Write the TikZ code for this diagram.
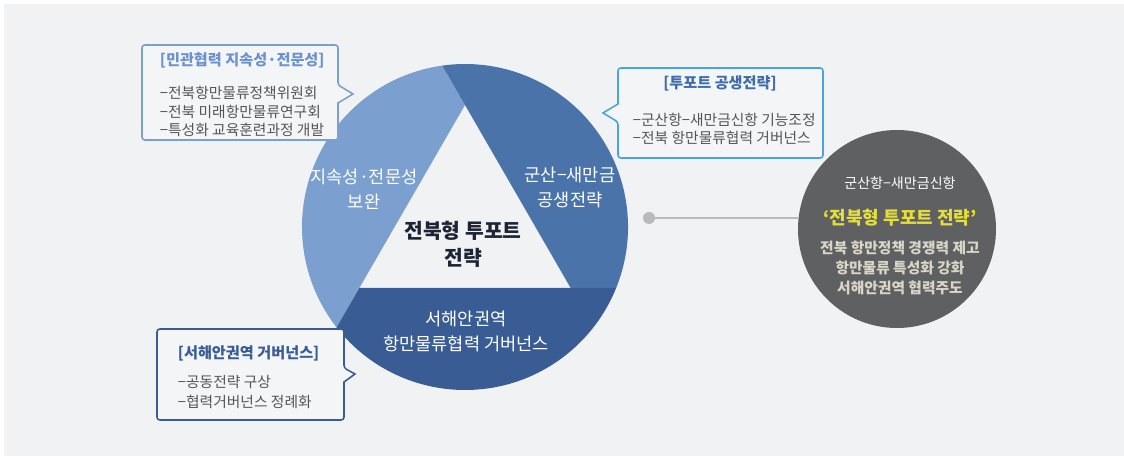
\documentclass[tikz,border=0pt]{standalone}
\usepackage{fontspec}
\setmainfont{Noto Sans CJK KR}
\usepackage{tikz}
\usetikzlibrary{calc}
\definecolor{bggray}{HTML}{F1F2F4}
\definecolor{boxfill}{HTML}{F4F5F7}
\definecolor{lblue}{HTML}{7B9FCF}
\definecolor{mblue}{HTML}{4A74A9}
\definecolor{dblue}{HTML}{3A5C95}
\definecolor{skyline}{HTML}{4AA3E0}
\definecolor{titlea}{HTML}{6B92D0}
\definecolor{titleb}{HTML}{3F6DAA}
\definecolor{itemgray}{HTML}{555555}
\definecolor{centerink}{HTML}{1E2434}
\definecolor{discgray}{HTML}{5F6062}
\definecolor{dotgray}{HTML}{B9BABC}
\definecolor{gold}{HTML}{E4DE3A}
\definecolor{beige}{HTML}{D9D5C7}

\begin{document}
\begin{tikzpicture}[
  sectorlabel/.style={text=white,align=center,font=\fontsize{12.5}{17.8}\selectfont},
  boxtitle/.style={anchor=west,font=\fontsize{10.8}{13}\selectfont\bfseries},
  boxitem/.style={anchor=west,align=left,text=itemgray,font=\fontsize{10.5}{13.2}\selectfont},
  disctext/.style={align=center,font=\fontsize{10.5}{14.2}\selectfont\bfseries}]
\useasboundingbox (0,0) rectangle (28.1,11.4);
\fill[bggray] (0.1,0) rectangle (28.1,11.3);

% wheel of three sectors round the triangle
\begin{scope}[shift={(11.625,5.725)}]
\foreach \a/\col in {90/lblue,330/mblue,210/dblue}
  \fill[\col] (\a:3.05) -- (\a+8.03:4.075)
    arc[start angle=\a+8.03,end angle=\a+128.03,radius=4.075]
    -- (\a+120:3.05) -- cycle;
\end{scope}

\node (left) at (9.1,6.66) [sectorlabel]{지속성·전문성\\보완};
\node (right) at (14.25,6.725) [sectorlabel]{군산−새만금\\공생전략};
\node (bottom) at (11.65,3.125) [sectorlabel]{서해안권역\\항만물류협력 거버넌스};
\node (core) at (11.575,5.29) [align=center,text=centerink,font=\fontsize{14.5}{19}\selectfont\bfseries]{전북형 투포트\\전략};

% callouts
\draw[lblue,line width=1.1pt,fill=boxfill,rounded corners=2pt] (3.55,10.275) -- (8.45,10.275) -- (8.45,9.275)
  [sharp corners] -- (8.825,9.05) -- (8.45,8.825) [rounded corners=2pt] -- (8.45,7.9) -- (3.55,7.9) -- cycle;
\node (civtitle) at (3.875,9.9) [boxtitle,text=titlea]{[민관협력 지속성·전문성]};
\node (civlist) at (3.875,8.6125) [boxitem]{−전북항만물류정책위원회\\−전북 미래항만물류연구회\\−특성화 교육훈련과정 개발};

\draw[skyline,line width=1.1pt,fill=boxfill,rounded corners=2pt] (15.45,9.7) -- (20.575,9.7) -- (20.575,7.45) -- (15.45,7.45) -- (15.45,8.35)
  [sharp corners] -- (15.075,8.575) -- (15.45,8.8) [rounded corners=2pt] -- cycle;
\node (twotitle) at (18.0,9.325) [boxtitle,anchor=center,text=titleb]{[투포트 공생전략]};
\node (twolist) at (15.7,8.175) [boxitem,font=\fontsize{10.5}{12.8}\selectfont]{−군산항−새만금신항 기능조정\\−전북 항만물류협력 거버넌스};

\draw[dblue,line width=1.1pt,fill=boxfill,rounded corners=2pt] (3.925,3.175) -- (8.6,3.175) -- (8.6,2.2)
  [sharp corners] -- (8.875,2.05) -- (8.6,1.85) [rounded corners=2pt] -- (8.6,0.9) -- (3.925,0.9) -- cycle;
\node (govtitle) at (4.325,2.575) [boxtitle,text=dblue]{[서해안권역 거버넌스]};
\node (govlist) at (4.325,1.6) [boxitem,font=\fontsize{10.5}{14.2}\selectfont]{−공동전략 구상\\−협력거버넌스 정례화};

% summary disc
\node (disc) at (22.425,5.675) [circle,fill=discgray,minimum size=4.95cm,inner sep=0]{};
\node (dot) at (16.225,5.95) [circle,fill=dotgray,minimum size=0.3cm,inner sep=0]{};
\draw[dotgray,line width=1.4pt] (dot) -- (dot -| disc.west);
\node (port) at (22.5,6.825) [text=white,font=\fontsize{10}{11}\selectfont]{군산항−새만금신항};
\node (slogan) at (22.5,5.95) [text=gold,font=\fontsize{12.8}{14}\selectfont\bfseries]{‘전북형 투포트 전략’};
\node (goals) at (22.5,4.7) [disctext,text=beige]{전북 항만정책 경쟁력 제고\\항만물류 특성화 강화\\서해안권역 협력주도};
\end{tikzpicture}
\end{document}
